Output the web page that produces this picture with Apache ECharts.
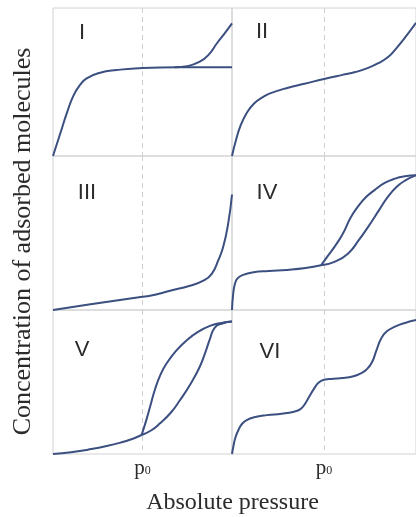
<!DOCTYPE html>
<html>
<head>
<meta charset="utf-8">
<script src="https://cdn.jsdelivr.net/npm/echarts@6/dist/echarts.min.js"></script>
<style>
  html, body { margin: 0; padding: 0; background: #fff; }
  #chart { width: 416px; height: 517px; }
</style>
</head>
<body>
<div id="chart"></div>
<script>
// Isotherm types I–VI: relative amount adsorbed (0–1) against pressure (0–1, p0 at 0.5)
const panelNames = ['I', 'II', 'III', 'IV', 'V', 'VI'];
const pressureTicks = [0.5];
const pressureTickText = 'p0';

// Type I: monolayer plateau, with the capillary branch rising near the end
const typeI = [[0,0],[0.04,0.15],[0.08,0.3],[0.115,0.41],[0.151,0.48],[0.188,0.525],[0.263,0.563],[0.356,0.581],[0.5,0.595],[0.7,0.6],[1,0.6]];
const typeIBranch = [[0.68,0.6],[0.75,0.607],[0.82,0.637],[0.87,0.685],[0.915,0.76],[0.96,0.83],[1,0.896]];

// Type II
const typeII = [[0,0],[0.02,0.1],[0.045,0.2],[0.08,0.29],[0.12,0.355],[0.17,0.4],[0.21,0.425],[0.3,0.46],[0.4,0.49],[0.5,0.52],[0.6,0.548],[0.67,0.567],[0.74,0.595],[0.8,0.63],[0.85,0.67],[0.885,0.716],[0.94,0.8],[1,0.9]];

// Type III
const typeIII = [[0,0],[0.2,0.035],[0.49,0.085],[0.542,0.092],[0.654,0.125],[0.765,0.158],[0.84,0.19],[0.887,0.235],[0.923,0.322],[0.951,0.41],[0.979,0.564],[1,0.75]];

// Type IV: adsorption and desorption branches
const typeIVBase = [[0,0],[0.006,0.1],[0.016,0.17],[0.03,0.205],[0.06,0.228],[0.117,0.245],[0.2,0.253],[0.3,0.26],[0.4,0.272],[0.484,0.29]];
const typeIVAds = [[0.484,0.29],[0.557,0.313],[0.63,0.366],[0.69,0.455],[0.74,0.54],[0.8,0.65],[0.85,0.74],[0.9,0.805],[0.94,0.84],[1,0.875]];
const typeIVDes = [[0.484,0.29],[0.52,0.35],[0.557,0.41],[0.6,0.49],[0.645,0.6],[0.685,0.673],[0.73,0.735],[0.776,0.78],[0.83,0.825],[0.886,0.853],[0.94,0.868],[1,0.875]];

// Type V
const typeVBase = [[0,0],[0.1,0.012],[0.195,0.03],[0.3,0.055],[0.38,0.08],[0.45,0.108],[0.495,0.132]];
const typeVAds = [[0.495,0.132],[0.55,0.165],[0.598,0.213],[0.66,0.29],[0.71,0.375],[0.77,0.49],[0.82,0.606],[0.855,0.72],[0.877,0.8],[0.905,0.88],[0.95,0.908],[1,0.92]];
const typeVDes = [[0.495,0.132],[0.52,0.23],[0.545,0.34],[0.57,0.45],[0.6,0.55],[0.635,0.63],[0.69,0.72],[0.747,0.79],[0.81,0.848],[0.877,0.89],[0.94,0.91],[1,0.92]];

// Type VI: stepwise multilayer adsorption
const typeVI = [[0,0],[0.01,0.07],[0.02,0.12],[0.035,0.167],[0.055,0.21],[0.08,0.236],[0.12,0.255],[0.19,0.27],[0.27,0.28],[0.337,0.294],[0.37,0.31],[0.395,0.345],[0.42,0.4],[0.447,0.456],[0.47,0.495],[0.5,0.515],[0.55,0.523],[0.6,0.527],[0.66,0.54],[0.7,0.56],[0.73,0.585],[0.76,0.635],[0.785,0.72],[0.81,0.8],[0.84,0.85],[0.886,0.884],[0.94,0.91],[1,0.93]];

const curves = [
  [typeI, typeIBranch],
  [typeII],
  [typeIII],
  [typeIVBase, typeIVAds, typeIVDes],
  [typeVBase, typeVAds, typeVDes],
  [typeVI]
];

const gridBoxes = [
  { left: 53,  top: 8,   width: 179, height: 148 },
  { left: 232, top: 8,   width: 184, height: 148 },
  { left: 53,  top: 156, width: 179, height: 154 },
  { left: 232, top: 156, width: 184, height: 154 },
  { left: 53,  top: 310, width: 179, height: 144 },
  { left: 232, top: 310, width: 184, height: 144 }
];
const numeralPos = [[82, 33], [262, 32], [87, 193], [267, 193], [82, 350], [270, 352]];

const lineColor = '#3b4f80';
const frameColor = '#d2d2d2';
const textColor = '#2b2b2b';

const grids = gridBoxes.map(b => Object.assign({
  show: true, borderColor: frameColor, borderWidth: 1, backgroundColor: 'transparent', containLabel: false
}, b));

const xAxes = gridBoxes.map((b, i) => ({
  type: 'value', gridIndex: i, min: 0, max: 1, interval: 0.5,
  axisLine: { show: false }, axisTick: { show: false },
  axisLabel: {
    show: i >= 4, margin: 4, showMinLabel: false, showMaxLabel: false,
    formatter: v => pressureTicks.includes(v) ? '{p|' + pressureTickText[0] + '}{s|' + pressureTickText[1] + '}' : '',
    rich: {
      p: { fontFamily: 'Liberation Serif', fontSize: 21, color: textColor, verticalAlign: 'bottom' },
      s: { fontFamily: 'Liberation Serif', fontSize: 12, color: textColor, verticalAlign: 'bottom', padding: [0, 0, 2, 0] }
    }
  },
  splitLine: {
    show: true, showMinLine: false, showMaxLine: false,
    lineStyle: { color: '#cfcfcf', width: 1, type: [5, 4] }
  }
}));

const yAxes = gridBoxes.map((b, i) => ({
  type: 'value', gridIndex: i, min: 0, max: 1,
  axisLine: { show: false }, axisTick: { show: false }, axisLabel: { show: false },
  splitLine: { show: false }
}));

const series = [];
curves.forEach((set, i) => {
  set.forEach(data => {
    series.push({
      type: 'line', xAxisIndex: i, yAxisIndex: i, data: data,
      smooth: 0.5, showSymbol: false, silent: true, clip: false,
      lineStyle: { color: lineColor, width: 2 }
    });
  });
});

const graphics = panelNames.map((name, i) => ({
  type: 'text', x: numeralPos[i][0], y: numeralPos[i][1],
  style: {
    text: name, fill: textColor, font: '22px "Liberation Sans"',
    align: 'center', verticalAlign: 'middle'
  }
}));
graphics.push({
  type: 'text', x: 23, y: 241.5, rotation: Math.PI / 2,
  style: {
    text: 'Concentration of adsorbed molecules', fill: textColor,
    font: '26px "Liberation Serif"', align: 'center', verticalAlign: 'middle'
  }
});
graphics.push({
  type: 'text', x: 232.5, y: 503,
  style: {
    text: 'Absolute pressure', fill: textColor,
    font: '24px "Liberation Serif"', align: 'center', verticalAlign: 'middle'
  }
});

const chart = echarts.init(document.getElementById('chart'), null, { renderer: 'canvas' });
chart.setOption({
  animation: false,
  backgroundColor: '#fff',
  grid: grids,
  xAxis: xAxes,
  yAxis: yAxes,
  series: series,
  graphic: graphics
});
</script>
</body>
</html>
